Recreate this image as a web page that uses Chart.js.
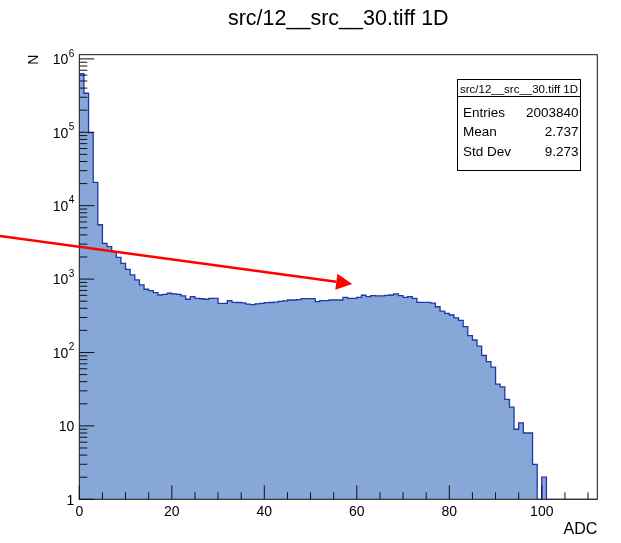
<!DOCTYPE html>
<html lang="en">
<head>
    <meta charset="UTF-8">
    <title>src/12__src__30.tiff 1D</title>
    <script src="https://cdn.jsdelivr.net/npm/chart.js@4.4.1/dist/chart.umd.min.js"></script>
    <style>
        html, body { margin: 0; padding: 0; background: #fff; }
    </style>
</head>
<body>
<canvas id="hist" width="621" height="543"></canvas>
<script>
    // 112 bins of width 1 ADC, counts
    const binLow = 0;
    const binHigh = 112;
    const counts = [
        630000, 340000, 99000, 20800, 5500, 3070, 2760, 2360, 1980, 1640,
        1360, 1140, 973, 832, 727, 695, 653, 607, 618, 641,
        630, 618, 589, 531, 576, 547, 540, 531, 547, 547,
        468, 468, 508, 483, 480, 475, 455, 450, 460, 468,
        478, 480, 485, 497, 505, 519, 519, 525, 541, 541,
        541, 492, 508, 508, 519, 519, 519, 565, 547, 547,
        565, 602, 576, 594, 589, 589, 600, 607, 630, 594,
        565, 576, 547, 483, 483, 483, 470, 420, 365, 342,
        324, 297, 274, 225, 170, 148, 122, 91, 75, 63,
        37, 34, 23, 18, 9, 11, 8, 8, 3, 0,
        2, 0, 0, 0, 0, 0, 0, 0, 0, 0, 0, 0
    ];

    const yMin = 1;
    const yMax = 1.14e6;
    const xTicks = [0, 20, 40, 60, 80, 100];
    const yTicks = [1, 10, 100, 1000, 10000, 100000, 1000000];
    // base and exponent of each decade label
    const yTickBase = ['1', '10', '10', '10', '10', '10', '10'];
    const yTickExp = ['', '', '2', '3', '4', '5', '6'];

    const statsTitle = 'src/12__src__30.tiff 1D';
    const statsNames = ['Entries', 'Mean', 'Std Dev'];
    const statsValues = ['2003840', '2.737', '9.273'];

    // arrow in data coordinates (ADC, N)
    const arrowFrom = [-17.2, 3870];
    const arrowTo = [59, 860];

    const FONT = "'Liberation Sans', Arial, sans-serif";
    Chart.defaults.font.family = FONT;
    Chart.defaults.color = '#000';

    // left bin edges, plus the closing edge; empty bins sit on the axis floor
    let points = counts.map((c, i) => ({x: binLow + i, y: Math.max(c, yMin)}));
    points.push({x: binHigh, y: Math.max(counts[counts.length - 1], yMin)});

    const rootDecor = {
        id: 'rootDecor',
        afterDraw(chart) {
            const ctx = chart.ctx;
            const a = chart.chartArea;
            const x = chart.scales.x;
            const y = chart.scales.y;
            ctx.save();

            // frame
            ctx.strokeStyle = '#111';
            ctx.lineWidth = 1;
            ctx.strokeRect(a.left, a.top, a.right - a.left, a.bottom - a.top);

            // ticks, drawn inside like ROOT
            ctx.beginPath();
            for (let v = binLow; v <= binHigh; v += 5) {
                let px = x.getPixelForValue(v);
                let len = xTicks.includes(v) ? 14 : 7;
                ctx.moveTo(px, a.bottom);
                ctx.lineTo(px, a.bottom - len);
            }
            yTicks.forEach(d => {
                for (let m = 1; m <= 9; m++) {
                    let v = d * m;
                    if (v > yMax) break;
                    let py = y.getPixelForValue(v);
                    ctx.moveTo(a.left, py);
                    ctx.lineTo(a.left + (m === 1 ? 15 : 8), py);
                }
            });
            ctx.stroke();

            // decade labels with raised exponent
            ctx.fillStyle = '#000';
            ctx.textAlign = 'right';
            ctx.textBaseline = 'middle';
            yTicks.forEach((d, i) => {
                let py = y.getPixelForValue(d);
                let right = a.left - 5;
                if (yTickExp[i]) {
                    ctx.font = '10px ' + FONT;
                    let w = ctx.measureText(yTickExp[i]).width;
                    ctx.fillText(yTickExp[i], right, py - 5);
                    right -= w + 0.5;
                }
                ctx.font = '14px ' + FONT;
                ctx.fillText(yTickBase[i], right, py + 1.5);
            });

            // stats box
            let bl = 457.5, bt = 79.5, br = 580.5, bb = 170.5;
            ctx.fillStyle = '#fff';
            ctx.fillRect(bl, bt, br - bl, bb - bt);
            ctx.strokeStyle = '#000';
            ctx.strokeRect(bl, bt, br - bl, bb - bt);
            ctx.beginPath();
            ctx.moveTo(bl, 96.5);
            ctx.lineTo(br, 96.5);
            ctx.stroke();
            ctx.fillStyle = '#000';
            ctx.textBaseline = 'alphabetic';
            ctx.font = '11.5px ' + FONT;
            ctx.textAlign = 'center';
            ctx.fillText(statsTitle, (bl + br) / 2, 93.3);
            ctx.font = '13.5px ' + FONT;
            for (let i = 0; i < statsNames.length; i++) {
                let base = 116.7 + i * 19.7;
                ctx.textAlign = 'left';
                ctx.fillText(statsNames[i], 463, base);
                ctx.textAlign = 'right';
                ctx.fillText(statsValues[i], 578.5, base);
            }

            // arrow
            let x1 = x.getPixelForValue(arrowFrom[0]), y1 = y.getPixelForValue(arrowFrom[1]);
            let x2 = x.getPixelForValue(arrowTo[0]), y2 = y.getPixelForValue(arrowTo[1]);
            let ang = Math.atan2(y2 - y1, x2 - x1);
            let head = 16, half = 8;
            let hx = x2 - head * Math.cos(ang), hy = y2 - head * Math.sin(ang);
            ctx.strokeStyle = '#ff0000';
            ctx.fillStyle = '#ff0000';
            ctx.lineWidth = 2.4;
            ctx.beginPath();
            ctx.moveTo(x1, y1);
            ctx.lineTo(hx, hy);
            ctx.stroke();
            ctx.beginPath();
            ctx.moveTo(x2, y2);
            ctx.lineTo(hx + half * Math.sin(ang), hy - half * Math.cos(ang));
            ctx.lineTo(hx - half * Math.sin(ang), hy + half * Math.cos(ang));
            ctx.closePath();
            ctx.fill();

            ctx.restore();
        }
    };

    new Chart(document.getElementById('hist'), {
        type: 'line',
        data: {
            datasets: [{
                label: 'src/12__src__30.tiff 1D',
                data: points,
                stepped: 'before',
                borderColor: '#1f36a6',
                borderWidth: 1.3,
                backgroundColor: 'rgb(135, 167, 217)',
                fill: 'start',
                pointRadius: 0,
                tension: 0
            }]
        },
        options: {
            responsive: false,
            animation: false,
            devicePixelRatio: 1,
            layout: {padding: {left: 0, right: 23.7, top: 0, bottom: 0}},
            plugins: {
                legend: {display: false},
                tooltip: {enabled: false},
                title: {
                    display: true,
                    text: 'src/12__src__30.tiff 1D',
                    fullSize: false,
                    font: {size: 21.5, weight: 'normal'},
                    color: '#000',
                    padding: {top: 6, bottom: 22.9}
                }
            },
            scales: {
                x: {
                    type: 'linear',
                    min: binLow,
                    max: binHigh,
                    afterBuildTicks: s => { s.ticks = xTicks.map(v => ({value: v})); },
                    afterFit: s => { s.height = 43.7; },
                    grid: {display: false, drawTicks: false},
                    border: {display: false},
                    ticks: {font: {size: 14}, color: '#000', padding: 4, maxRotation: 0, autoSkip: false},
                    title: {display: true, text: 'ADC', align: 'end', font: {size: 16}, color: '#000', padding: {top: 0, bottom: 4}}
                },
                y: {
                    type: 'logarithmic',
                    min: yMin,
                    max: yMax,
                    afterBuildTicks: s => { s.ticks = yTicks.map(v => ({value: v})); },
                    afterFit: s => { s.width = 79.3; },
                    grid: {display: false, drawTicks: false},
                    border: {display: false},
                    ticks: {display: false},
                    title: {display: true, text: 'N', align: 'end', font: {size: 14}, color: '#000', padding: {top: 25.6, bottom: 0}}
                }
            }
        },
        plugins: [rootDecor]
    });
</script>
</body>
</html>
